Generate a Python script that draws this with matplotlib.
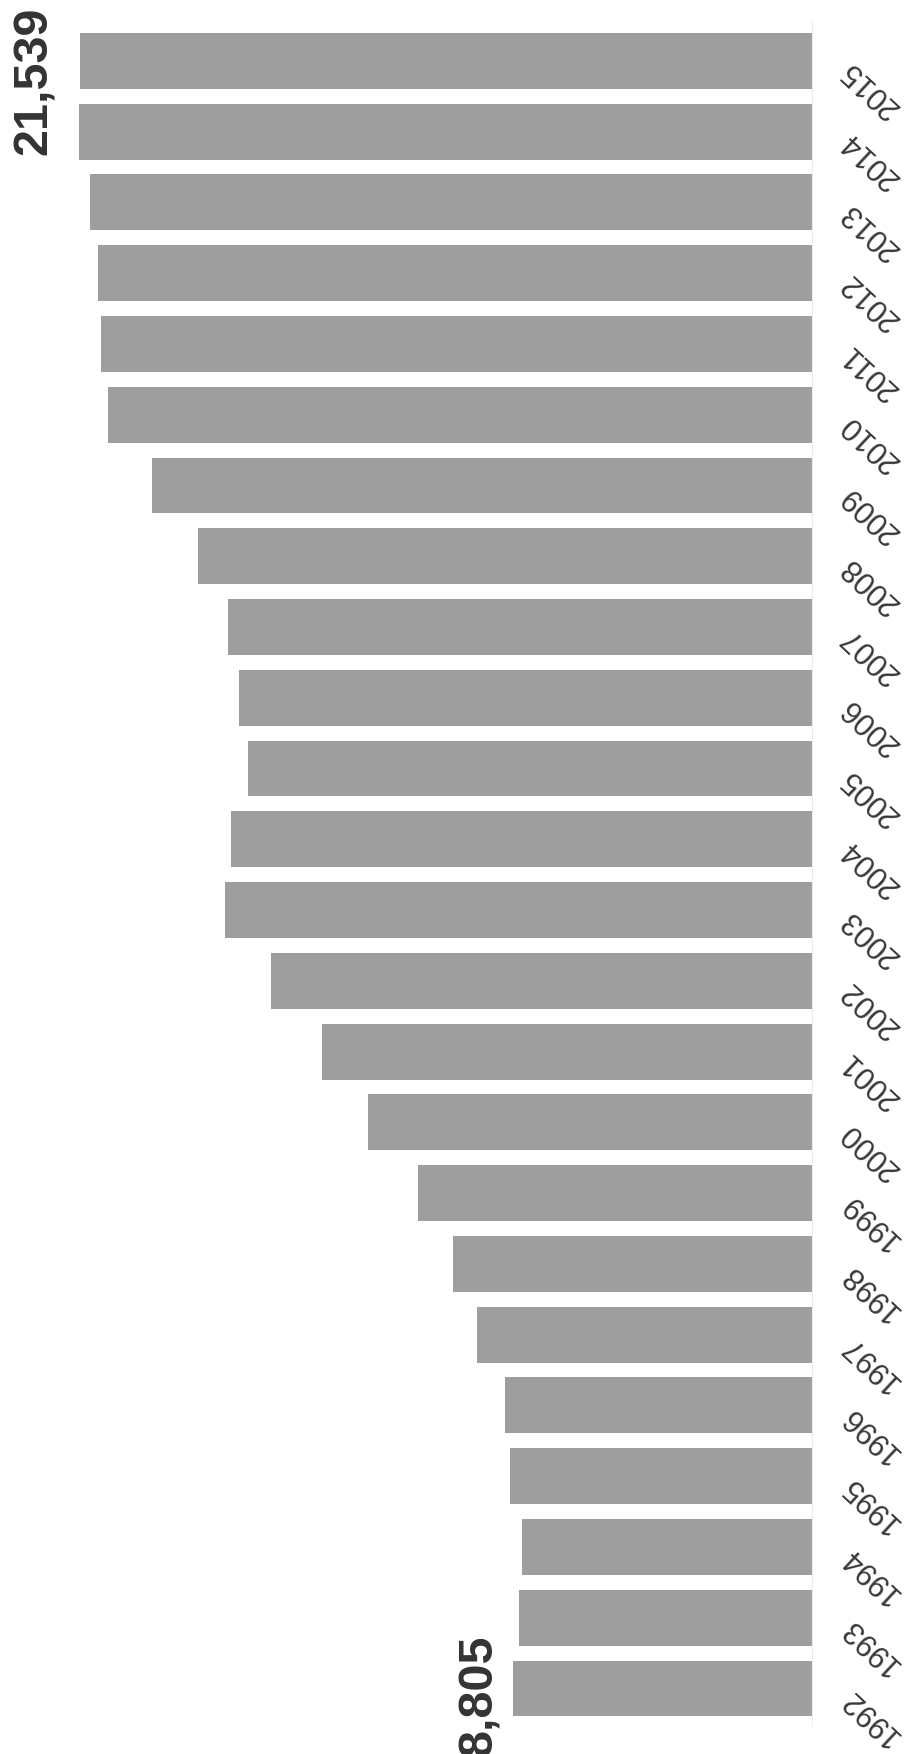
import matplotlib
matplotlib.use("Agg")
import matplotlib.pyplot as plt
from matplotlib import transforms

plt.rcParams['font.family'] = ['Liberation Sans', 'DejaVu Sans']

years = list(range(1992, 2016))
values = [8805, 8642, 8554, 8893, 9050, 9875, 10584, 11625, 13083, 14424,
          15932, 17282, 17098, 16611, 16874, 17185, 18078, 19419, 20731, 20936,
          21005, 21268, 21568, 21539]
callout_years = [2015, 1992]
callout_text = ["21,539", "8,805"]

fig = plt.figure(figsize=(9.06, 17.54), dpi=100)
ax = fig.add_axes([0, 0, 813 / 906, 1])

pos = list(range(len(years)))
ax.barh(pos, values, height=0.79, color='#9e9e9e', edgecolor='none')
ax.vlines(0, -0.55, len(years) - 0.45, color='#ececec', lw=1.5)

ax.set_xlim(23900, 0)
ax.set_ylim(-0.926, 23.86)
ax.axis('off')

# year labels, turned upside down on the right
trans = transforms.blended_transform_factory(ax.transAxes, ax.transData)
ylab = transforms.offset_copy(trans, fig=fig, x=57, y=-28, units='dots')
for p, y in zip(pos, years):
    ax.text(1, p, str(y), transform=ylab, rotation=137, ha='center', va='center',
            fontsize=22, color='#383838')

# first / last value callouts
offs = {2015: (-46, -20), 1992: (-34, -7)}
for y, t in zip(callout_years, callout_text):
    i = years.index(y)
    dx, dy = offs.get(y, (-43, -13))
    tr = transforms.offset_copy(ax.transData, fig=fig, x=dx, y=dy, units='dots')
    ax.text(values[i], i, t, transform=tr, rotation=90, ha='center', va='center',
            fontsize=35, fontweight='bold', color='#333333')

fig.savefig('out.png', dpi=100)
